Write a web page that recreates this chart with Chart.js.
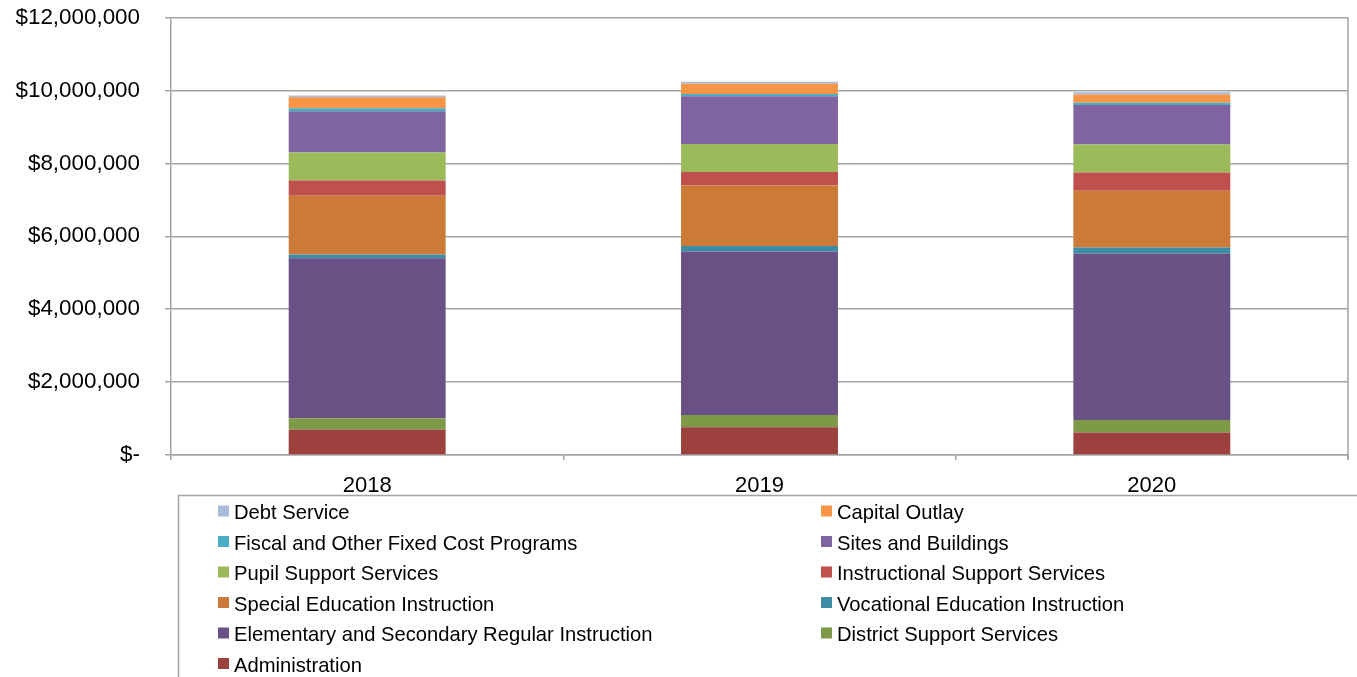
<!DOCTYPE html>
<html>
<head>
<meta charset="utf-8">
<script src="https://cdn.jsdelivr.net/npm/chart.js@4.4.1/dist/chart.umd.min.js"></script>
<style>
  html, body { margin: 0; padding: 0; background: #fff; }
</style>
</head>
<body>
<canvas id="chart" width="1357" height="677"></canvas>
<script>
// categories
const years = ['2018', '2019', '2020'];

// series values (dollars), bottom of stack first
const administration   = [690000, 760000, 620000];
const districtSupport  = [320000, 340000, 340000];
const elemSecondary    = [4390000, 4480000, 4570000];
const vocationalEd     = [100000, 150000, 160000];
const specialEd        = [1610000, 1660000, 1560000];
const instrSupport     = [420000, 370000, 500000];
const pupilSupport     = [770000, 770000, 770000];
const sitesBuildings   = [1130000, 1310000, 1080000];
const fiscalFixed      = [80000, 60000, 60000];
const capitalOutlay    = [300000, 280000, 230000];
const debtService      = [50000, 60000, 60000];

// y axis tick labels
const yTicks = [0, 2000000, 4000000, 6000000, 8000000, 10000000, 12000000];

const gridColor = '#a3a3a3';
const fontFamily = '"Liberation Sans", Arial, sans-serif';

function makeSet(label, data, color) {
  return { label, data, backgroundColor: color, borderWidth: 0 };
}

const datasets = [
  makeSet('Administration', administration, '#9c413e'),
  makeSet('District Support Services', districtSupport, '#7e9948'),
  makeSet('Elementary and Secondary Regular Instruction', elemSecondary, '#695186'),
  makeSet('Vocational Education Instruction', vocationalEd, '#3d8ca6'),
  makeSet('Special Education Instruction', specialEd, '#cb7a37'),
  makeSet('Instructional Support Services', instrSupport, '#c0504e'),
  makeSet('Pupil Support Services', pupilSupport, '#9bba59'),
  makeSet('Sites and Buildings', sitesBuildings, '#8064a1'),
  makeSet('Fiscal and Other Fixed Cost Programs', fiscalFixed, '#4bacc6'),
  makeSet('Capital Outlay', capitalOutlay, '#f79647'),
  makeSet('Debt Service', debtService, '#a9bbdb')
];

// boxed two-column legend and the plot's right border
const boxLegend = {
  id: 'boxLegend',
  afterDraw(chart) {
    const ctx = chart.ctx;
    const area = chart.chartArea;
    ctx.save();
    ctx.strokeStyle = gridColor;
    ctx.lineWidth = 1.5;
    ctx.beginPath();
    ctx.moveTo(area.right, area.top);
    ctx.lineTo(area.right, area.bottom + 5);
    ctx.stroke();
    ctx.strokeRect(178.5, 495.5, 1400, 300);

    const items = chart.data.datasets.slice().reverse();
    ctx.font = '20.2px ' + fontFamily;
    ctx.textBaseline = 'middle';
    items.forEach((ds, i) => {
      const col = i % 2;
      const row = Math.floor(i / 2);
      const x = col === 0 ? 218 : 821;
      const y = 512.5 + row * 30.5;
      ctx.fillStyle = ds.backgroundColor;
      ctx.fillRect(x, y - 7, 11, 11);
      ctx.fillStyle = '#000';
      ctx.fillText(ds.label, x + 16, y + 1);
    });
    ctx.restore();
  }
};

new Chart(document.getElementById('chart'), {
  type: 'bar',
  data: { labels: years, datasets },
  plugins: [boxLegend],
  options: {
    responsive: false,
    animation: false,
    layout: { padding: { top: 17.5, right: 9, bottom: 182, left: 0 } },
    datasets: { bar: { barPercentage: 1, categoryPercentage: 0.4 } },
    plugins: {
      legend: { display: false },
      tooltip: { enabled: false }
    },
    scales: {
      x: {
        stacked: true,
        offset: true,
        afterFit(scale) { scale.height = 40; },
        grid: {
          offset: true,
          drawOnChartArea: false,
          drawTicks: true,
          tickLength: 5,
          color: gridColor,
          lineWidth: 1.5
        },
        border: { color: gridColor, width: 1.5 },
        ticks: {
          color: '#000',
          padding: 13,
          font: { family: fontFamily, size: 22 }
        }
      },
      y: {
        stacked: true,
        min: 0,
        max: 12000000,
        afterFit(scale) {
          scale.width = 171;
          scale.paddingTop = 0;
          scale.paddingBottom = 0;
        },
        afterBuildTicks(scale) {
          scale.ticks = yTicks.map(v => ({ value: v }));
        },
        grid: {
          color: gridColor,
          lineWidth: 1.5,
          drawTicks: true,
          tickLength: 6
        },
        border: { color: gridColor, width: 1.5 },
        ticks: {
          color: '#000',
          padding: 25,
          font: { family: fontFamily, size: 22.4 },
          callback(value) {
            return value === 0 ? '$-' : '$' + Number(value).toLocaleString('en-US');
          }
        }
      }
    }
  }
});
</script>
</body>
</html>
